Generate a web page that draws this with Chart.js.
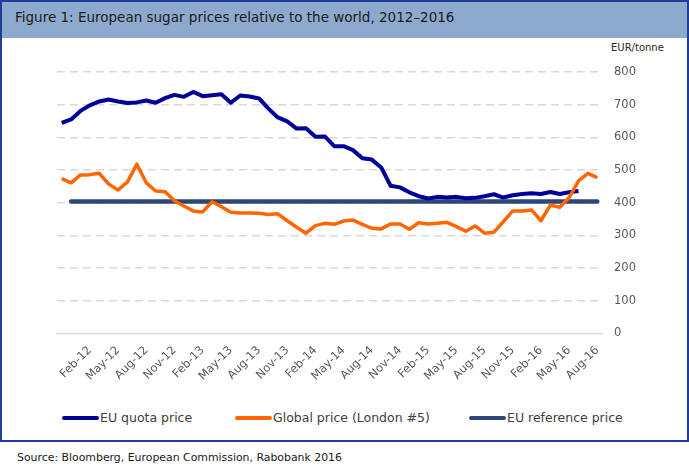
<!DOCTYPE html>
<html>
<head>
<meta charset="utf-8">
<script src="https://cdn.jsdelivr.net/npm/chart.js@4.4.1/dist/chart.umd.min.js"></script>
<style>
  html, body { margin:0; padding:0; width:689px; height:467px; background:#fff; overflow:hidden; font-family:"DejaVu Sans", Verdana, sans-serif; }
  #frame { position:absolute; left:0; top:0; width:689px; height:442px; box-sizing:border-box; border:2px solid #1F3C96; }
  #head { position:absolute; left:0; top:0; width:100%; height:36px; background:#8DA9CE; }
  #title { position:absolute; left:15px; top:9px; font-size:13.5px; color:#1a1a1a; white-space:nowrap; }
  #wrap { position:absolute; left:0; top:38px; width:689px; height:350px; }
  #unit { position:absolute; left:611px; top:42px; font-size:10px; color:#262626; }
  .leg { position:absolute; top:410px; height:16px; font-size:12.5px; color:#404040; white-space:nowrap; }
  .leg i { display:inline-block; width:37px; height:4px; border-radius:2px; vertical-align:middle; margin-right:1px; position:relative; top:-1px; }
  #source { position:absolute; left:17px; top:451px; font-size:10.9px; color:#1a1a1a; white-space:nowrap; }
</style>
</head>
<body>
<div id="frame">
  <div id="head"></div>
</div>
<div id="title">Figure 1: European sugar prices relative to the world, 2012–2016</div>
<div id="unit">EUR/tonne</div>
<div id="wrap"><canvas id="chart"></canvas></div>
<div class="leg" style="left:62px"><i style="background:#000099"></i>EU quota price</div>
<div class="leg" style="left:235px"><i style="background:#FF6600"></i>Global price (London #5)</div>
<div class="leg" style="left:469px"><i style="background:#2E4677"></i>EU reference price</div>
<div id="source">Source: Bloomberg, European Commission, Rabobank 2016</div>

<script>
// — data (EUR/tonne, monthly) —
const months = [
  'Nov-11','Dec-11',
  'Jan-12','Feb-12','Mar-12','Apr-12','May-12','Jun-12','Jul-12','Aug-12','Sep-12','Oct-12','Nov-12','Dec-12',
  'Jan-13','Feb-13','Mar-13','Apr-13','May-13','Jun-13','Jul-13','Aug-13','Sep-13','Oct-13','Nov-13','Dec-13',
  'Jan-14','Feb-14','Mar-14','Apr-14','May-14','Jun-14','Jul-14','Aug-14','Sep-14','Oct-14','Nov-14','Dec-14',
  'Jan-15','Feb-15','Mar-15','Apr-15','May-15','Jun-15','Jul-15','Aug-15','Sep-15','Oct-15','Nov-15','Dec-15',
  'Jan-16','Feb-16','Mar-16','Apr-16','May-16','Jun-16','Jul-16','Aug-16'
];

const quotaPrice = [
  644, 655, 681, 698, 710, 716, 710, 705, 707, 713, 706, 720, 730, 724, 739, 726,
  729, 732, 706, 728, 725, 719, 688, 661, 649, 627, 628, 602, 603, 573, 573, 561,
  536, 532, 508, 452, 447, 432, 420, 413, 418, 416, 418, 414, 415, 420, 426, 416,
  423, 427, 429, 427, 433, 427, 432, 436, null, null
];

const globalPrice = [
  474, 461, 485, 486, 490, 457, 439, 464, 518, 461, 436, 434, 406, 390, 375, 372,
  403, 388, 371, 369, 369, 368, 364, 366, 345, 325, 307, 330, 337, 334, 344, 347,
  334, 322, 320, 335, 335, 319, 339, 335, 337, 340, 327, 313, 329, 307, 310, 342,
  375, 375, 378, 345, 393, 386, 416, 467, 490, 477
];

// reference price is flat, drawn from first to last month it covers
const refPrice = 404;
const refFrom  = 'Dec-11';
const refTo    = 'Aug-16';

const yTicks = { min: 0, max: 800, step: 100 };

const GRID = '#D9D9D9';
const TEXT = '#595959';
const FONT = { family: 'DejaVu Sans', size: 11.5 };

new Chart(document.getElementById('chart'), {
  type: 'line',
  data: {
    labels: months,
    datasets: [
      { label: 'EU quota price', data: quotaPrice, borderColor: '#000099', borderWidth: 4, order: 1 },
      { label: 'Global price (London #5)', data: globalPrice, borderColor: '#FF6600', borderWidth: 3.5, order: 0 },
      { label: 'EU reference price', data: [{ x: refFrom, y: refPrice }, { x: refTo, y: refPrice }],
        borderColor: '#2E4677', borderWidth: 4.5, order: 2, borderCapStyle: 'round' },
    ],
  },
  options: {
    responsive: true, maintainAspectRatio: false, animation: false,
    layout: { padding: { left: 57, top: 34, right: 0, bottom: 0 } },
    elements: {
      line: { tension: 0, borderJoinStyle: 'round', fill: false },
      point: { radius: 0, hoverRadius: 0 },
    },
    plugins: { legend: { display: false }, tooltip: { enabled: false } },
    scales: {
      x: {
        type: 'category',
        offset: true,
        grid: { display: false },
        border: { display: true, color: GRID, width: 1.5 },
        ticks: {
          autoSkip: false, maxRotation: 45, minRotation: 45, padding: 2,
          color: TEXT, font: FONT,
          callback(v, i) { return (i >= 3 && i % 3 === 0) ? months[i] : null; },
        },
        afterFit(scale) { scale.height = 54.5; },
      },
      y: {
        position: 'right',
        min: yTicks.min, max: yTicks.max,
        grid: {
          color: ctx => ctx.tick && ctx.tick.value === 0 ? 'rgba(0,0,0,0)' : GRID,
          lineWidth: 1.5, drawTicks: false,
        },
        border: { display: false, dash: [8, 5] },
        ticks: { stepSize: yTicks.step, padding: 12, color: TEXT, font: FONT },
        afterFit(scale) { scale.width = 87; },
      },
    },
  },
});
</script>
</body>
</html>
